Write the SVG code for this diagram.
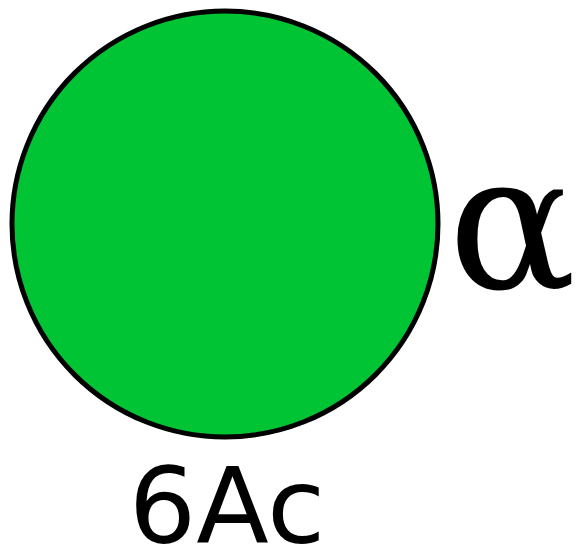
<svg xmlns="http://www.w3.org/2000/svg" width="579" height="552" viewBox="0 0 579 552">
<style>
.node{fill:#00c433;stroke:#000;stroke-width:5}
.lbl{font-family:"DejaVu Sans",sans-serif;fill:#000}
.greek{font-family:"DejaVu Serif",serif;fill:#000}
</style>
<rect width="579" height="552" fill="#fff"/>
<g id="node-6Ac">
<circle class="node" cx="225" cy="224" r="213"/>
<text class="lbl" x="227" y="543" font-size="106" text-anchor="middle">6Ac</text>
<text class="greek" x="448" y="288" font-size="190">α</text>
</g>
<g id="connectors"/>
</svg>
